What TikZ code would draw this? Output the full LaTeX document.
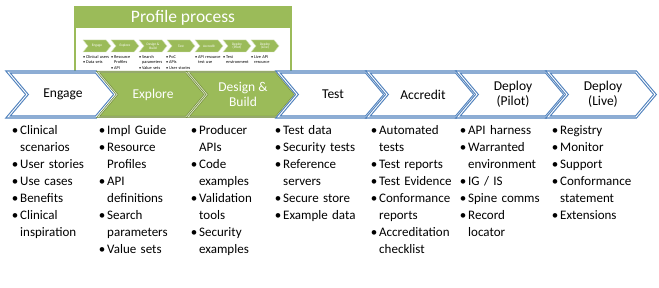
\documentclass[tikz,border=0pt]{standalone}
\usepackage{fontspec}
\setmainfont{Carlito}
\definecolor{chevblue}{HTML}{4F81BD}
\definecolor{olive}{HTML}{9BBB59}
\definecolor{olivedark}{HTML}{71893F}
\definecolor{olivelight}{HTML}{D7E4BD}

% one bullet item with a hanging indent for continuation lines
\newcommand\bul[1]{\hangindent=10pt\hangafter=1\noindent\makebox[10pt][c]{\textbullet}#1\par}
\newcommand\tbul[1]{\hangindent=3pt\hangafter=1\noindent\makebox[3pt][l]{\textbullet}#1\par}

\tikzset{
  bluechev/.style={draw=chevblue, double=white, line width=1.1pt, double distance=0.9pt, fill=white, line join=miter},
  greenchev/.style={draw=olivedark, double=olivelight, line width=0.6pt, double distance=0.8pt, fill=olive, line join=miter},
  minichev/.style={draw=olivelight, line width=0.4pt, fill=olive},
  chevlabel/.style={align=center, inner sep=0pt, font=\fontsize{13.5}{15}\selectfont},
  minilabel/.style={align=center, inner sep=0pt, text=white, font=\fontsize{3.5}{3.9}\selectfont},
  itemlist/.style={anchor=base west, inner sep=0pt, text width=92pt, align=left, font=\fontsize{13}{17}\selectfont},
  miniitems/.style={anchor=base west, inner sep=0pt, text width=27pt, align=left, font=\fontsize{4.3}{5.4}\selectfont},
  frame/.style={draw=olive, line width=2pt},
}

\begin{document}
\begin{tikzpicture}[x=1pt, y=-1pt]
\useasboundingbox (0,0) rectangle (659,288);

% "Profile process" panel, partly hidden behind the main chevron row
\draw[frame, fill=white] (75,7) rectangle (291,80);
\fill[olive] (75,7) rectangle (291,28);
\node[text=white, inner sep=0pt, font=\fontsize{17.5}{19}\selectfont] (ptitle) at (183,17.5) {Profile process};

% small chevron row inside the panel
\foreach \i/\lab in {0/Engage, 1/Explore, 2/{Design \&\\Build}, 3/Test, 4/Accredit, 5/{Deploy\\(Pilot)}, 6/{Deploy\\(Live)}} {
  \pgfmathsetmacro\xl{83+28*\i}
  \draw[minichev] (\xl,40) -- ++(23,0) -- ++(5,6) -- ++(-5,6) -- ++(-23,0) -- ++(5,-6) -- cycle;
  \node[minilabel] (m\i) at (\xl+14,46) {\lab};
}
\node[miniitems] (ml0) at (83,58.5) {\tbul{Clinical users}\tbul{Data sets}};
\node[miniitems] (ml1) at (111,58.5) {\tbul{Resource\newline Profiles}\tbul{API\newline definitions}};
\node[miniitems] (ml2) at (139,58.5) {\tbul{Search\newline parameters}\tbul{Value sets}};
\node[miniitems] (ml3) at (166,58.5) {\tbul{PoC}\tbul{APIs}\tbul{User stories}};
\node[miniitems] (ml4) at (195,58.5) {\tbul{API resource\newline test use}};
\node[miniitems] (ml5) at (223,58.5) {\tbul{Test\newline environment}};
\node[miniitems] (ml6) at (251,58.5) {\tbul{Live API\newline resource}};

% main chevron row
\foreach \i/\lab/\kind/\tc in {0/Engage/bluechev/black, 1/Explore/greenchev/white, 2/{Design \&\\Build}/greenchev/white, 3/Test/bluechev/black, 4/Accredit/bluechev/black, 5/{Deploy\\(Pilot)}/bluechev/black, 6/{Deploy\\(Live)}/bluechev/black} {
  \pgfmathsetmacro\xl{8+90*\i}
  \draw[\kind] (\xl,72) -- ++(88,0) -- ++(19,22.5) -- ++(-19,22.5) -- ++(-88,0) -- ++(19,-22.5) -- cycle;
  \node[chevlabel, text=\tc] (c\i) at (\xl+55,94.5) {\lab};
}

% bullet lists under each stage
\node[itemlist] (l0) at (10,134.5) {\bul{Clinical\newline scenarios}\bul{User stories}\bul{Use cases}\bul{Benefits}\bul{Clinical\newline inspiration}};
\node[itemlist] (l1) at (97,134.5) {\bul{Impl Guide}\bul{Resource\newline Profiles}\bul{API\newline definitions}\bul{Search\newline parameters}\bul{Value sets}};
\node[itemlist] (l2) at (189,134.5) {\bul{Producer\newline APIs}\bul{Code\newline examples}\bul{Validation\newline tools}\bul{Security\newline examples}};
\node[itemlist] (l3) at (273,134.5) {\bul{Test data}\bul{Security tests}\bul{Reference\newline servers}\bul{Secure store}\bul{Example data}};
\node[itemlist] (l4) at (369,134.5) {\bul{Automated\newline tests}\bul{Test reports}\bul{Test Evidence}\bul{Conformance\newline reports}\bul{Accreditation\newline checklist}};
\node[itemlist] (l5) at (458,134.5) {\bul{API harness}\bul{Warranted\newline environment}\bul{IG / IS}\bul{Spine comms}\bul{Record\newline locator}};
\node[itemlist] (l6) at (550,134.5) {\bul{Registry}\bul{Monitor}\bul{Support}\bul{Conformance\newline statement}\bul{Extensions}};
\end{tikzpicture}
\end{document}
